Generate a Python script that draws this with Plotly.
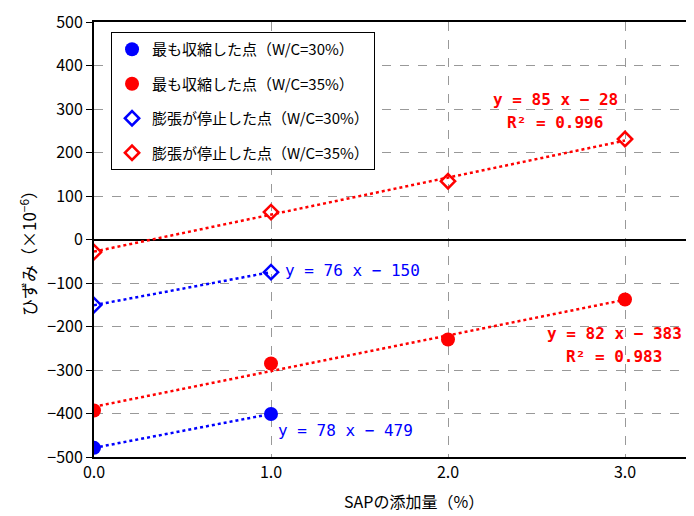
import numpy as np
import plotly.graph_objects as go

# ---- data ----
x_all = [0.0, 1.0, 2.0, 3.0]
x_30 = [0.0, 1.0]

shrink_30 = [-479, -401]              # 最も収縮した点 (W/C=30%)
shrink_35 = [-393, -285, -230, -138]  # 最も収縮した点 (W/C=35%)
stop_30 = [-151, -75]                 # 膨張が停止した点 (W/C=30%)
stop_35 = [-29, 63, 134, 231]         # 膨張が停止した点 (W/C=35%)

names = ["最も収縮した点（W/C=30%）", "最も収縮した点（W/C=35%）",
         "膨張が停止した点（W/C=30%）", "膨張が停止した点（W/C=35%）"]

x_ticks = [0, 1, 2, 3]
x_ticktext = ["0.0", "1.0", "2.0", "3.0"]
y_ticks = list(range(-500, 501, 100))

BLUE = "#0000FF"
RED = "#FF0000"
FONT = "Noto Sans CJK JP"
MONO = "DejaVu Sans Mono"

fig = go.Figure()

def trend(xs, ys, color):
    a, b = np.polyfit(xs, ys, 1)
    xx = np.array([min(xs), max(xs)])
    fig.add_trace(go.Scatter(x=xx, y=a * xx + b, mode="lines",
                             line=dict(color=color, width=2.5, dash="dot"),
                             showlegend=False, hoverinfo="skip"))

trend(x_30, shrink_30, BLUE)
trend(x_all, shrink_35, RED)
trend(x_30, stop_30, BLUE)
trend(x_all, stop_35, RED)

fig.add_trace(go.Scatter(x=x_30, y=shrink_30, mode="markers", name=names[0], legendgroup="a",
                         marker=dict(symbol="circle", size=14, color=BLUE)))
fig.add_trace(go.Scatter(x=x_all, y=shrink_35, mode="markers", name=names[1], legendgroup="b",
                         marker=dict(symbol="circle", size=14, color=RED)))
fig.add_trace(go.Scatter(x=x_30, y=stop_30, mode="markers", name=names[2], legendgroup="c",
                         marker=dict(symbol="diamond-open", size=11, color=BLUE,
                                     line=dict(width=2.5, color=BLUE))))
fig.add_trace(go.Scatter(x=x_all, y=stop_35, mode="markers", name=names[3], legendgroup="d",
                         marker=dict(symbol="diamond-open", size=11, color=RED,
                                     line=dict(width=2.5, color=RED))))

# equation labels
def label(x, y, text, color, bold, anchor):
    fig.add_annotation(x=x, y=y, text=text, showarrow=False, xanchor=anchor,
                       font=dict(color=color, size=16, family=MONO,
                                 weight="bold" if bold else "normal"))

label(1.03, -440, "y = 78 x − 479", BLUE, False, "left")
label(1.068, -72, "y = 76 x − 150", BLUE, False, "left")
label(2.94, -215, "y = 82 x − 383", RED, True, "center")
label(2.94, -270, "R² = 0.983", RED, True, "center")
label(2.605, 321, "y = 85 x − 28", RED, True, "center")
label(2.605, 268, "R² = 0.996", RED, True, "center")

# axis titles
fig.add_annotation(xref="paper", yref="paper", x=0.526, y=-0.101, text="SAPの添加量（%）",
                   showarrow=False, xanchor="center", yanchor="middle",
                   font=dict(size=16, family=FONT, color="black"))
fig.add_annotation(xref="paper", yref="paper", x=-0.1086, y=0.478,
                   text="ひずみ（×10<sup>−6</sup>）", textangle=-90,
                   showarrow=False, xanchor="center", yanchor="middle",
                   font=dict(size=17, family=FONT, color="black"))

fig.update_layout(
    width=694, height=516,
    margin=dict(l=86, r=0, t=14, b=67),
    paper_bgcolor="white", plot_bgcolor="white",
    font=dict(family=FONT, size=16, color="black"),
    showlegend=True,
    legend=dict(x=0.028, y=0.977, xanchor="left", yanchor="top",
                bordercolor="black", borderwidth=1, bgcolor="white",
                font=dict(size=15, family=FONT), tracegroupgap=12,
                itemwidth=30),
    xaxis=dict(range=[0, 3.435], tickvals=x_ticks, ticktext=x_ticktext,
               showgrid=True, gridcolor="#999999", griddash="dash", gridwidth=1,
               showline=True, linecolor="black", linewidth=2, mirror=True,
               ticks="", zeroline=False, automargin=False,
               tickfont=dict(size=16)),
    yaxis=dict(range=[-500, 500], tickvals=y_ticks, showgrid=True,
               gridcolor="#999999", griddash="dash", gridwidth=1,
               showline=True, linecolor="black", linewidth=2,
               ticks="outside", ticklen=6, tickcolor="black",
               zeroline=True, zerolinecolor="black", zerolinewidth=2,
               automargin=False, tickfont=dict(size=16)),
)

fig.write_html("out.html")
